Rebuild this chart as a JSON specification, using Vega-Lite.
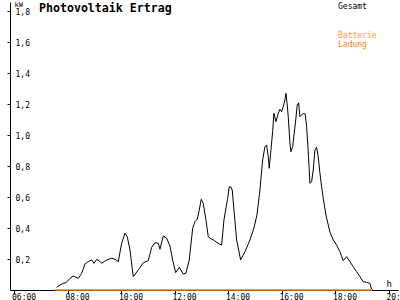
{
  "$schema": "https://vega.github.io/schema/vega-lite/v6.json",
  "width": 388,
  "height": 288,
  "autosize": {"type": "none"},
  "padding": {"left": 10, "top": 2, "right": 2, "bottom": 10},
  "background": "white",
  "config": {
    "view": {"stroke": null},
    "font": "DejaVu Sans Mono",
    "legend": {
      "symbolSize": 0,
      "symbolOpacity": 0,
      "symbolStrokeWidth": 0,
      "labelOffset": 0,
      "padding": 0,
      "rowPadding": 1,
      "labelFont": "DejaVu Sans Mono",
      "labelFontSize": 8,
      "labelBaseline": "middle"
    }
  },
  "title": {
    "text": "Photovoltaik Ertrag",
    "anchor": "start",
    "frame": "group",
    "orient": "top",
    "offset": -24,
    "dx": 29,
    "baseline": "alphabetic",
    "font": "DejaVu Sans Mono",
    "fontSize": 11.6,
    "fontWeight": "bold",
    "color": "#000000"
  },
  "datasets": {
    "gesamt": [
      {"t": 7.578, "v": 0.017, "s": "Gesamt"},
      {"t": 7.701, "v": 0.032, "s": "Gesamt"},
      {"t": 7.824, "v": 0.043, "s": "Gesamt"},
      {"t": 7.925, "v": 0.047, "s": "Gesamt"},
      {"t": 8.075, "v": 0.075, "s": "Gesamt"},
      {"t": 8.198, "v": 0.090, "s": "Gesamt"},
      {"t": 8.299, "v": 0.082, "s": "Gesamt"},
      {"t": 8.385, "v": 0.075, "s": "Gesamt"},
      {"t": 8.512, "v": 0.108, "s": "Gesamt"},
      {"t": 8.636, "v": 0.168, "s": "Gesamt"},
      {"t": 8.759, "v": 0.183, "s": "Gesamt"},
      {"t": 8.886, "v": 0.194, "s": "Gesamt"},
      {"t": 8.972, "v": 0.172, "s": "Gesamt"},
      {"t": 9.073, "v": 0.198, "s": "Gesamt"},
      {"t": 9.170, "v": 0.189, "s": "Gesamt"},
      {"t": 9.260, "v": 0.172, "s": "Gesamt"},
      {"t": 9.383, "v": 0.187, "s": "Gesamt"},
      {"t": 9.507, "v": 0.198, "s": "Gesamt"},
      {"t": 9.634, "v": 0.205, "s": "Gesamt"},
      {"t": 9.757, "v": 0.198, "s": "Gesamt"},
      {"t": 9.880, "v": 0.183, "s": "Gesamt"},
      {"t": 10.007, "v": 0.301, "s": "Gesamt"},
      {"t": 10.131, "v": 0.366, "s": "Gesamt"},
      {"t": 10.217, "v": 0.344, "s": "Gesamt"},
      {"t": 10.318, "v": 0.258, "s": "Gesamt"},
      {"t": 10.441, "v": 0.086, "s": "Gesamt"},
      {"t": 10.628, "v": 0.129, "s": "Gesamt"},
      {"t": 10.815, "v": 0.176, "s": "Gesamt"},
      {"t": 11.002, "v": 0.189, "s": "Gesamt"},
      {"t": 11.129, "v": 0.275, "s": "Gesamt"},
      {"t": 11.252, "v": 0.305, "s": "Gesamt"},
      {"t": 11.376, "v": 0.301, "s": "Gesamt"},
      {"t": 11.439, "v": 0.263, "s": "Gesamt"},
      {"t": 11.563, "v": 0.348, "s": "Gesamt"},
      {"t": 11.690, "v": 0.334, "s": "Gesamt"},
      {"t": 11.813, "v": 0.284, "s": "Gesamt"},
      {"t": 11.914, "v": 0.194, "s": "Gesamt"},
      {"t": 12.026, "v": 0.112, "s": "Gesamt"},
      {"t": 12.161, "v": 0.146, "s": "Gesamt"},
      {"t": 12.310, "v": 0.103, "s": "Gesamt"},
      {"t": 12.411, "v": 0.108, "s": "Gesamt"},
      {"t": 12.535, "v": 0.194, "s": "Gesamt"},
      {"t": 12.662, "v": 0.398, "s": "Gesamt"},
      {"t": 12.748, "v": 0.441, "s": "Gesamt"},
      {"t": 12.834, "v": 0.456, "s": "Gesamt"},
      {"t": 12.908, "v": 0.516, "s": "Gesamt"},
      {"t": 12.983, "v": 0.585, "s": "Gesamt"},
      {"t": 13.058, "v": 0.559, "s": "Gesamt"},
      {"t": 13.159, "v": 0.452, "s": "Gesamt"},
      {"t": 13.245, "v": 0.344, "s": "Gesamt"},
      {"t": 13.308, "v": 0.334, "s": "Gesamt"},
      {"t": 13.432, "v": 0.323, "s": "Gesamt"},
      {"t": 13.619, "v": 0.301, "s": "Gesamt"},
      {"t": 13.746, "v": 0.290, "s": "Gesamt"},
      {"t": 13.832, "v": 0.452, "s": "Gesamt"},
      {"t": 13.970, "v": 0.592, "s": "Gesamt"},
      {"t": 14.030, "v": 0.666, "s": "Gesamt"},
      {"t": 14.093, "v": 0.665, "s": "Gesamt"},
      {"t": 14.142, "v": 0.645, "s": "Gesamt"},
      {"t": 14.206, "v": 0.516, "s": "Gesamt"},
      {"t": 14.307, "v": 0.323, "s": "Gesamt"},
      {"t": 14.456, "v": 0.194, "s": "Gesamt"},
      {"t": 14.617, "v": 0.247, "s": "Gesamt"},
      {"t": 14.804, "v": 0.323, "s": "Gesamt"},
      {"t": 14.953, "v": 0.400, "s": "Gesamt"},
      {"t": 15.065, "v": 0.484, "s": "Gesamt"},
      {"t": 15.178, "v": 0.645, "s": "Gesamt"},
      {"t": 15.279, "v": 0.839, "s": "Gesamt"},
      {"t": 15.364, "v": 0.925, "s": "Gesamt"},
      {"t": 15.428, "v": 0.935, "s": "Gesamt"},
      {"t": 15.488, "v": 0.860, "s": "Gesamt"},
      {"t": 15.525, "v": 0.785, "s": "Gesamt"},
      {"t": 15.578, "v": 0.882, "s": "Gesamt"},
      {"t": 15.652, "v": 1.021, "s": "Gesamt"},
      {"t": 15.701, "v": 1.140, "s": "Gesamt"},
      {"t": 15.776, "v": 1.086, "s": "Gesamt"},
      {"t": 15.862, "v": 1.140, "s": "Gesamt"},
      {"t": 15.925, "v": 1.166, "s": "Gesamt"},
      {"t": 15.989, "v": 1.150, "s": "Gesamt"},
      {"t": 16.049, "v": 1.183, "s": "Gesamt"},
      {"t": 16.112, "v": 1.226, "s": "Gesamt"},
      {"t": 16.150, "v": 1.269, "s": "Gesamt"},
      {"t": 16.198, "v": 1.194, "s": "Gesamt"},
      {"t": 16.236, "v": 1.118, "s": "Gesamt"},
      {"t": 16.299, "v": 0.946, "s": "Gesamt"},
      {"t": 16.336, "v": 0.892, "s": "Gesamt"},
      {"t": 16.400, "v": 0.925, "s": "Gesamt"},
      {"t": 16.460, "v": 1.011, "s": "Gesamt"},
      {"t": 16.523, "v": 1.108, "s": "Gesamt"},
      {"t": 16.572, "v": 1.194, "s": "Gesamt"},
      {"t": 16.624, "v": 1.208, "s": "Gesamt"},
      {"t": 16.673, "v": 1.118, "s": "Gesamt"},
      {"t": 16.736, "v": 1.129, "s": "Gesamt"},
      {"t": 16.796, "v": 1.140, "s": "Gesamt"},
      {"t": 16.871, "v": 1.135, "s": "Gesamt"},
      {"t": 16.923, "v": 1.054, "s": "Gesamt"},
      {"t": 16.972, "v": 0.925, "s": "Gesamt"},
      {"t": 17.021, "v": 0.774, "s": "Gesamt"},
      {"t": 17.047, "v": 0.688, "s": "Gesamt"},
      {"t": 17.110, "v": 0.699, "s": "Gesamt"},
      {"t": 17.170, "v": 0.774, "s": "Gesamt"},
      {"t": 17.234, "v": 0.903, "s": "Gesamt"},
      {"t": 17.297, "v": 0.921, "s": "Gesamt"},
      {"t": 17.357, "v": 0.860, "s": "Gesamt"},
      {"t": 17.421, "v": 0.753, "s": "Gesamt"},
      {"t": 17.484, "v": 0.666, "s": "Gesamt"},
      {"t": 17.544, "v": 0.592, "s": "Gesamt"},
      {"t": 17.645, "v": 0.484, "s": "Gesamt"},
      {"t": 17.794, "v": 0.374, "s": "Gesamt"},
      {"t": 17.918, "v": 0.323, "s": "Gesamt"},
      {"t": 18.045, "v": 0.290, "s": "Gesamt"},
      {"t": 18.168, "v": 0.247, "s": "Gesamt"},
      {"t": 18.292, "v": 0.189, "s": "Gesamt"},
      {"t": 18.419, "v": 0.215, "s": "Gesamt"},
      {"t": 18.542, "v": 0.183, "s": "Gesamt"},
      {"t": 18.665, "v": 0.150, "s": "Gesamt"},
      {"t": 18.793, "v": 0.118, "s": "Gesamt"},
      {"t": 18.916, "v": 0.086, "s": "Gesamt"},
      {"t": 19.039, "v": 0.054, "s": "Gesamt"},
      {"t": 19.166, "v": 0.050, "s": "Gesamt"},
      {"t": 19.290, "v": 0.043, "s": "Gesamt"},
      {"t": 19.353, "v": 0.005, "s": "Gesamt"},
      {"t": 19.400, "v": 0.0, "s": "Gesamt"}
    ],
    "batterie": [
      {"t": 7.51, "v": 0.0, "s": "Ladung"},
      {"t": 19.36, "v": 0.0, "s": "Ladung"}
    ]
  },
  "encoding": {
    "x": {
      "field": "t",
      "type": "quantitative",
      "scale": {"domain": [5.832, 20.34], "nice": false, "zero": false},
      "axis": {
        "values": [6, 8, 10, 12, 14, 16, 18, 20],
        "labelExpr": "(datum.value < 10 ? '0' : '') + datum.value + ':00'",
        "title": "h",
        "titleX": 376,
        "titleY": -4,
        "titleAlign": "left",
        "titleBaseline": "alphabetic",
        "titleAngle": 0,
        "titleFont": "DejaVu Sans Mono",
        "titleFontSize": 9,
        "titleFontWeight": "normal",
        "titleColor": "#000000",
        "labelAlign": "left",
        "labelOffset": -3,
        "labelBaseline": "top",
        "labelPadding": -1,
        "labelFont": "DejaVu Sans Mono",
        "labelFontSize": 8,
        "labelColor": "#000000",
        "labelFlush": false,
        "labelOverlap": false,
        "labelBound": false,
        "tickSize": 4,
        "tickColor": "#000000",
        "domainColor": "#000000",
        "grid": false
      }
    },
    "y": {
      "field": "v",
      "type": "quantitative",
      "scale": {"domain": [0, 1.858], "nice": false, "zero": true},
      "axis": {
        "values": [0.2, 0.4, 0.6, 0.8, 1.0, 1.2, 1.4, 1.6, 1.8],
        "labelExpr": "replace(format(datum.value, '.1f'), '.', ',')",
        "title": "kW",
        "titleAngle": 0,
        "titleX": 4,
        "titleY": 4,
        "titleAlign": "left",
        "titleBaseline": "alphabetic",
        "titleFont": "DejaVu Sans Mono",
        "titleFontSize": 7,
        "titleFontWeight": "normal",
        "titleColor": "#000000",
        "labelAlign": "left",
        "labelBaseline": "middle",
        "labelPadding": -8,
        "labelOffset": 2,
        "labelFont": "DejaVu Sans Mono",
        "labelFontSize": 8,
        "labelColor": "#000000",
        "labelFlush": false,
        "labelOverlap": false,
        "labelBound": false,
        "tickSize": 3,
        "tickColor": "#000000",
        "domainColor": "#000000",
        "grid": false
      }
    }
  },
  "layer": [
    {
      "data": {"name": "gesamt"},
      "mark": {"type": "line", "strokeWidth": 1},
      "encoding": {
        "color": {
          "field": "s",
          "type": "nominal",
          "scale": {"domain": ["Gesamt"], "range": ["#000000"]},
          "legend": {
            "orient": "none",
            "legendX": 320,
            "legendY": 1,
            "title": null,
            "labelColor": "#000000"
          }
        }
      }
    },
    {
      "data": {"name": "batterie"},
      "mark": {"type": "line", "strokeWidth": 1.5},
      "encoding": {
        "stroke": {
          "field": "s",
          "type": "nominal",
          "scale": {"domain": ["Batterie", "Ladung"], "range": ["#FFA500", "#FF8000"]},
          "legend": {
            "orient": "none",
            "legendX": 320,
            "legendY": 30,
            "title": null,
            "encode": {
              "labels": {
                "update": {
                  "fill": {"signal": "datum.value === 'Batterie' ? '#FFA500' : '#FF8000'"}
                }
              }
            }
          }
        }
      }
    },
    {
      "data": {"values": [{}]},
      "mark": {"type": "point", "shape": "M-1.5,0.5L0,-1L1.5,0.5", "filled": false, "size": 16, "stroke": "#000000", "strokeWidth": 1, "opacity": 1},
      "encoding": {
        "x": {"datum": 5.832, "type": "quantitative"},
        "y": {"datum": 1.858, "type": "quantitative"}
      }
    },
    {
      "data": {"values": [{}]},
      "mark": {"type": "point", "shape": "M-1.5,-1.5L0,0L-1.5,1.5", "filled": false, "size": 16, "stroke": "#000000", "strokeWidth": 1, "opacity": 1},
      "encoding": {
        "x": {"datum": 20.34, "type": "quantitative"},
        "y": {"datum": 0, "type": "quantitative"}
      }
    }
  ]
}
